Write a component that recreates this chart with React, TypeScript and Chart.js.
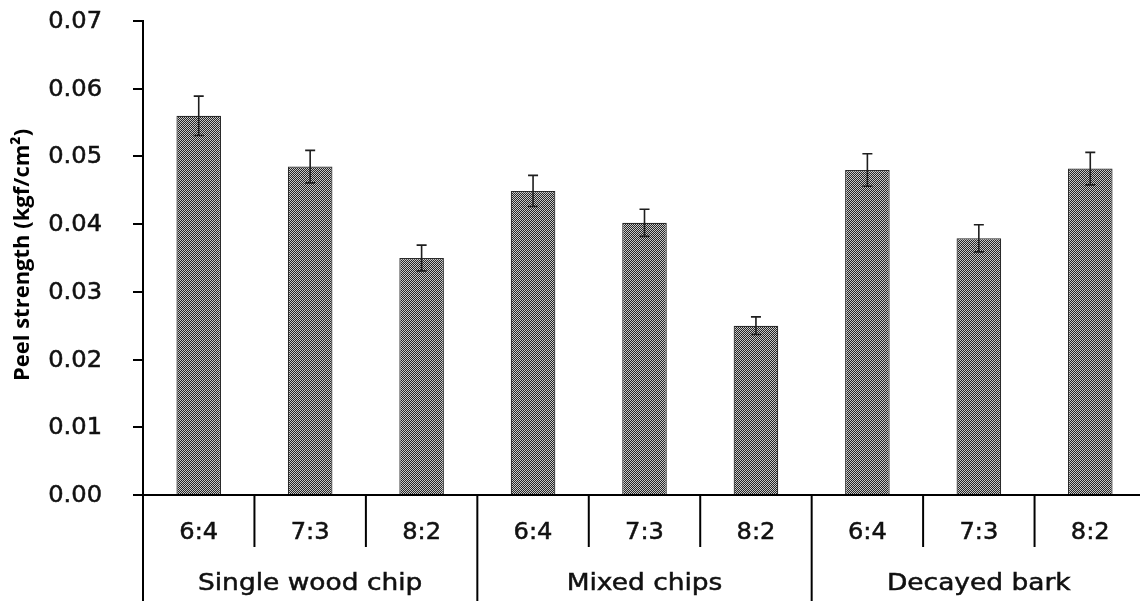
import React, { useEffect, useRef } from "react";
import { Chart, registerables } from "chart.js";

Chart.register(...registerables);

const categories = ["6:4", "7:3", "8:2", "6:4", "7:3", "8:2", "6:4", "7:3", "8:2"];
const groups = ["Single wood chip", "Mixed chips", "Decayed bark"];
const groupSize = 3;
const values = [0.056, 0.0485, 0.035, 0.0449, 0.0402, 0.025, 0.048, 0.0379, 0.0482];
const errors = [0.0029, 0.0024, 0.0019, 0.0023, 0.002, 0.0013, 0.0024, 0.002, 0.0024];
const yTitle = "Peel strength (kgf/cm²)";
const yMin = 0;
const yMax = 0.07;
const yStep = 0.01;

const TEXT = "#111";

function stretchedText(ctx: CanvasRenderingContext2D, text: string, x: number, y: number, align: CanvasTextAlign, sx: number) {
  ctx.save();
  ctx.translate(x, y);
  ctx.scale(sx, 1);
  ctx.textAlign = align;
  ctx.fillText(text, 0, 0);
  ctx.lineWidth = 0.5;
  ctx.strokeStyle = TEXT;
  ctx.strokeText(text, 0, 0);
  ctx.restore();
}

const errorBarPlugin = {
  id: "errorBars",
  afterDatasetsDraw(chart: any) {
    const ctx = chart.ctx;
    const y = chart.scales.y;
    const meta = chart.getDatasetMeta(0);
    ctx.save();
    ctx.strokeStyle = "#1e1e1e";
    ctx.lineWidth = 1.6;
    meta.data.forEach((el: any, i: number) => {
      const x = el.x;
      const t = y.getPixelForValue(values[i] + errors[i]);
      const b = y.getPixelForValue(values[i] - errors[i]);
      ctx.beginPath();
      ctx.moveTo(x, t);
      ctx.lineTo(x, b);
      ctx.moveTo(x - 5, t);
      ctx.lineTo(x + 5, t);
      ctx.moveTo(x - 5, b);
      ctx.lineTo(x + 5, b);
      ctx.stroke();
    });
    ctx.restore();
  },
};

const axisPlugin = {
  id: "customAxes",
  afterDraw(chart: any) {
    const ctx = chart.ctx;
    const xs = chart.scales.x;
    const ys = chart.scales.y;
    const area = chart.chartArea;
    const H = chart.height;
    const bottom = area.bottom;
    const catW = (area.right - area.left) / categories.length;

    ctx.save();
    ctx.strokeStyle = "#000";
    ctx.lineWidth = 2;
    ctx.beginPath();
    ctx.moveTo(area.left, bottom);
    ctx.lineTo(area.left, H);
    ctx.stroke();

    for (let i = 0; i <= categories.length; i++) {
      const px = i < categories.length ? xs.getPixelForValue(i) - catW / 2 : xs.getPixelForValue(categories.length - 1) + catW / 2;
      const isGroup = i % groupSize === 0;
      ctx.beginPath();
      ctx.moveTo(px, bottom);
      ctx.lineTo(px, isGroup ? H : bottom + 52);
      ctx.stroke();
    }

    ctx.fillStyle = TEXT;
    ctx.textBaseline = "middle";
    ctx.font = '23px "DejaVu Sans"';
    categories.forEach((c, i) => {
      stretchedText(ctx, c, xs.getPixelForValue(i), bottom + 38, "center", 1.05);
    });
    groups.forEach((g, gi) => {
      const a = xs.getPixelForValue(gi * groupSize);
      const b = xs.getPixelForValue(gi * groupSize + groupSize - 1);
      stretchedText(ctx, g, (a + b) / 2, bottom + 89, "center", 1.15);
    });

    ys.ticks.forEach((t: any, i: number) => {
      const py = ys.getPixelForTick(i);
      stretchedText(ctx, t.value.toFixed(2), area.left - 41, py + 1, "right", 1.05);
    });

    ctx.save();
    ctx.translate(23, (area.top + area.bottom) / 2 - 3);
    ctx.rotate(-Math.PI / 2);
    ctx.font = 'bold 22px "Open Sans"';
    ctx.textAlign = "center";
    ctx.textBaseline = "middle";
    ctx.fillStyle = "#000";
    ctx.fillText(yTitle, 0, 0);
    ctx.restore();

    ctx.restore();
  },
};

export default function App() {
  const ref = useRef<HTMLCanvasElement | null>(null);

  useEffect(() => {
    const canvas = ref.current;
    if (!canvas) return;
    const pc = document.createElement("canvas");
    pc.width = 2;
    pc.height = 2;
    const pctx = pc.getContext("2d")!;
    pctx.fillStyle = "#262626";
    pctx.fillRect(0, 0, 2, 2);
    pctx.fillStyle = "#c8c8c8";
    pctx.fillRect(0, 0, 1, 1);
    pctx.fillRect(1, 1, 1, 1);
    const ctx = canvas.getContext("2d")!;
    const pattern = ctx.createPattern(pc, "repeat");

    const chart = new Chart(canvas, {
      type: "bar",
      data: {
        labels: categories,
        datasets: [
          {
            data: values,
            backgroundColor: pattern as any,
            borderColor: "#2a2a2a",
            borderWidth: 1.2,
            barPercentage: 0.4,
            categoryPercentage: 1,
          },
        ],
      },
      options: {
        responsive: false,
        animation: false,
        devicePixelRatio: 1,
        layout: { padding: { top: 21, left: 0, right: 0, bottom: 0 } },
        plugins: { legend: { display: false }, tooltip: { enabled: false }, title: { display: false } },
        scales: {
          x: {
            type: "category",
            grid: { display: false },
            border: { display: true, color: "#000", width: 2 },
            ticks: { display: false },
            afterFit: (s: any) => {
              s.height = 106;
            },
          },
          y: {
            min: yMin,
            max: yMax,
            ticks: { display: false, stepSize: yStep },
            grid: { display: true, drawOnChartArea: false, drawTicks: true, tickLength: 10, color: "#000", lineWidth: 2 },
            border: { display: true, color: "#000", width: 2 },
            afterFit: (s: any) => {
              s.width = 143;
            },
          },
        },
      },
      plugins: [errorBarPlugin, axisPlugin],
    });
    return () => chart.destroy();
  }, []);

  return (
    <div style={{ position: "fixed", left: 0, top: 0, width: 1140, height: 601, overflow: "hidden", background: "#fff" }}>
      <canvas ref={ref} width={1146} height={601} style={{ display: "block" }} />
    </div>
  );
}
